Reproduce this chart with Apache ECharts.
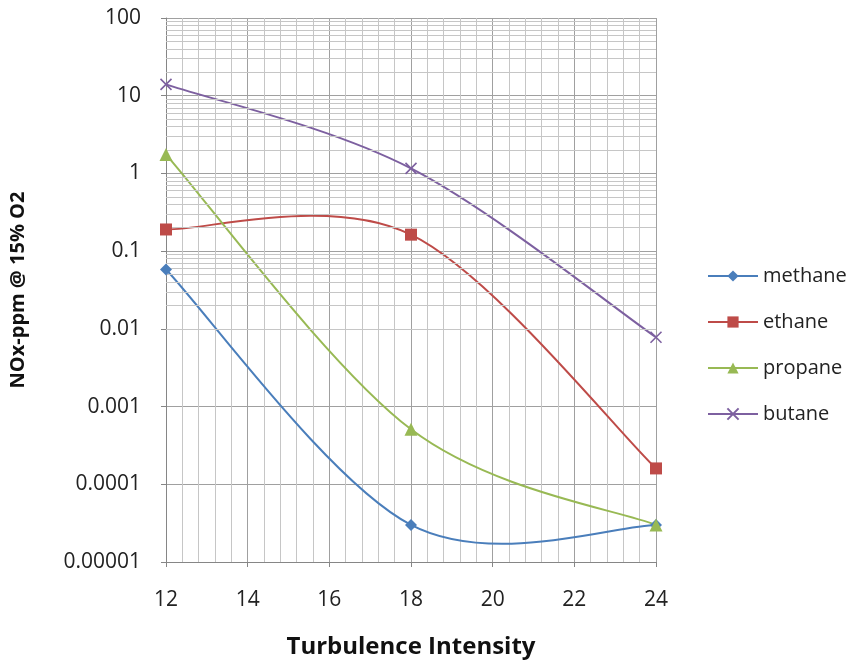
<!DOCTYPE html>
<html><head><meta charset="utf-8">
<script src="https://cdn.jsdelivr.net/npm/echarts@6/dist/echarts.min.js"></script>
<style>html,body{margin:0;padding:0;background:#fff}#c{width:856px;height:664px}</style>
</head><body><div id="c"></div>
<script>
// ---- data ----
const xValues = [12, 18, 24];
const methane = [0.058, 3.0e-5, 3.0e-5];
const ethane = [0.19, 0.163, 1.6e-4];
const propane = [1.75, 5.1e-4, 3.0e-5];
const butane = [14, 1.16, 0.0078];
const seriesNames = ['methane', 'ethane', 'propane', 'butane'];
const yTickLabels = ['0.00001', '0.0001', '0.001', '0.01', '0.1', '1', '10', '100'];
const xTickLabels = ['12', '14', '16', '18', '20', '22', '24'];
const minorMantissas = [2, 3, 4, 5, 6, 7, 8, 9];
const decadeExponents = [-5, -4, -3, -2, -1, 0, 1];

const colors = ['#4a7ebb', '#be4b48', '#98b954', '#7d60a0'];
const symbols = ['diamond', 'rect', 'triangle', 'path://M0,0L10,10M10,0L0,10'];
const symbolSizes = [12, 12, 13, 11];
const allValues = [methane, ethane, propane, butane];

const minorGridValues = [];
decadeExponents.forEach(e => minorMantissas.forEach(m => minorGridValues.push(+(m * Math.pow(10, e)).toPrecision(3))));

const FONT = '"Open Sans", Lato, sans-serif';
const chart = echarts.init(document.getElementById('c'));

// Catmull-Rom style smoothing (like spreadsheet "smoothed line") in pixel space
function smoothPath(pts) {
  const n = pts.length;
  const P = i => pts[Math.max(0, Math.min(n - 1, i))];
  const tan = i => [(P(i + 1)[0] - P(i - 1)[0]) / 6, (P(i + 1)[1] - P(i - 1)[1]) / 6];
  let d = 'M' + pts[0][0] + ' ' + pts[0][1];
  for (let i = 0; i < n - 1; i++) {
    const t0 = tan(i), t1 = tan(i + 1);
    d += ' C' + (pts[i][0] + t0[0]) + ' ' + (pts[i][1] + t0[1]) + ' ' +
      (pts[i + 1][0] - t1[0]) + ' ' + (pts[i + 1][1] - t1[1]) + ' ' +
      pts[i + 1][0] + ' ' + pts[i + 1][1];
  }
  return d;
}

const series = [];
// minor horizontal grid via markLine
series.push({
  type: 'line', name: '_grid', data: [], silent: true, z: 1,
  markLine: {
    silent: true, symbol: ['none', 'none'], animation: false,
    label: { show: false },
    lineStyle: { color: '#c6c6c6', width: 1, type: 'solid' },
    emphasis: { disabled: true },
    data: minorGridValues.map(v => ({ yAxis: v }))
  }
});
// smooth curves (drawn through axis scales)
allValues.forEach((vals, i) => {
  series.push({
    type: 'custom', name: seriesNames[i] + '_curve', z: 3, silent: true, clip: true,
    data: xValues.map((x, k) => [x, vals[k]]),
    renderItem: function (params, api) {
      if (params.dataIndex !== 0) return null;
      const pts = xValues.map((x, k) => api.coord([x, vals[k]]));
      return {
        type: 'path',
        shape: { pathData: smoothPath(pts) },
        style: { stroke: colors[i], lineWidth: 2, fill: null }
      };
    }
  });
});
// markers + legend entries
allValues.forEach((vals, i) => {
  series.push({
    type: 'line', name: seriesNames[i], z: 5,
    data: xValues.map((x, k) => [x, vals[k]]),
    symbol: symbols[i], symbolSize: symbolSizes[i], showSymbol: true,
    lineStyle: { width: 0, color: colors[i] },
    itemStyle: i === 3 ? { color: colors[i], borderColor: colors[i], borderWidth: 1.6 } : { color: colors[i] },
    emphasis: { disabled: true }
  });
});

chart.setOption({
  animation: false,
  backgroundColor: '#ffffff',
  grid: { left: 163, right: 200, top: 18, bottom: 93, containLabel: false },
  legend: {
    data: seriesNames, orient: 'vertical', left: 702, top: 261,
    itemWidth: 50, itemHeight: 14, itemGap: 26,
    textStyle: { fontFamily: FONT, fontSize: 20, color: '#222' },
    lineStyle: { width: 2 },
    selectedMode: false
  },
  xAxis: {
    type: 'value', min: 12, max: 24, interval: 2,
    name: 'Turbulence Intensity', nameLocation: 'middle', nameGap: 73,
    nameTextStyle: { fontFamily: FONT, fontSize: 24, fontWeight: 'bold', color: '#111' },
    axisLine: { show: true, lineStyle: { color: '#868686', width: 1 } },
    axisTick: { show: true, length: 5, lineStyle: { color: '#868686' } },
    axisLabel: {
      fontFamily: FONT, fontSize: 21, color: '#222', margin: 28,
      formatter: v => xTickLabels[Math.round((v - 12) / 2)]
    },
    splitLine: { show: true, lineStyle: { color: '#a0a0a0', width: 1 } },
    minorTick: { show: false, splitNumber: 5 },
    minorSplitLine: { show: true, lineStyle: { color: '#c6c6c6', width: 1 } }
  },
  yAxis: {
    type: 'log', logBase: 10, min: 1e-5, max: 100, splitNumber: 7,
    name: 'NOx-ppm @ 15% O2', nameLocation: 'middle', nameGap: 138, nameRotate: 90,
    nameTextStyle: { fontFamily: FONT, fontSize: 20, fontWeight: 'bold', color: '#111' },
    axisLine: { show: true, lineStyle: { color: '#868686', width: 1 } },
    axisTick: { show: true, length: 5, lineStyle: { color: '#868686' } },
    axisLabel: {
      fontFamily: FONT, fontSize: 21, color: '#222', margin: 25,
      formatter: v => yTickLabels[Math.round(Math.log10(v)) + 5]
    },
    splitLine: { show: true, lineStyle: { color: '#a0a0a0', width: 1 } }
  },
  series: series
});
</script>
</body></html>
